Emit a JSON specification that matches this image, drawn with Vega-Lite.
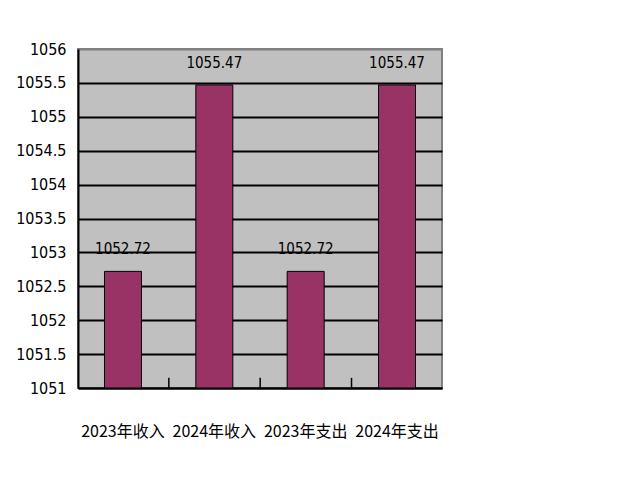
{
  "$schema": "https://vega.github.io/schema/vega-lite/v6.json",
  "width": 364,
  "height": 339,
  "autosize": "none",
  "padding": {"left": 78, "top": 49, "right": 192, "bottom": 93},
  "background": "white",
  "data": {
    "values": [
      {"item": "2023年收入", "value": 1052.72, "label": "1052.72"},
      {"item": "2024年收入", "value": 1055.47, "label": "1055.47"},
      {"item": "2023年支出", "value": 1052.72, "label": "1052.72"},
      {"item": "2024年支出", "value": 1055.47, "label": "1055.47"}
    ]
  },
  "config": {
    "view": {"fill": "#C0C0C0", "stroke": "#808080", "strokeWidth": 2},
    "font": "Noto Sans CJK SC",
    "axis": {"labelFont": "DejaVu Sans Condensed", "labelColor": "black", "labelFontSize": 16, "title": null}
  },
  "encoding": {
    "x": {
      "field": "item",
      "type": "nominal",
      "sort": null,
      "scale": {"paddingInner": 0.595, "paddingOuter": 0.29},
      "axis": {
        "labelAngle": 0,
        "ticks": false,
        "domainColor": "black",
        "domainWidth": 2,
        "labelPadding": 35,
        "labelFont": "Noto Sans CJK SC",
        "labelFontSize": 16,
        "grid": false
      }
    },
    "y": {
      "field": "value",
      "type": "quantitative",
      "scale": {"domain": [1051, 1056], "zero": false, "nice": false},
      "axis": {
        "values": [1051, 1051.5, 1052, 1052.5, 1053, 1053.5, 1054, 1054.5, 1055, 1055.5, 1056],
        "format": "~g",
        "labelOverlap": false,
        "grid": true,
        "gridColor": {"condition": {"test": "datum.value >= 1056", "value": "#808080"}, "value": "black"},
        "gridWidth": 2,
        "gridOpacity": 1,
        "ticks": false,
        "domainColor": "black",
        "domainWidth": 2,
        "labelPadding": 12
      },
      "title": null
    }
  },
  "layer": [
    {
      "mark": {"type": "bar", "color": "#993366", "stroke": "black", "strokeWidth": 1},
      "encoding": {
        "y2": {"datum": 1051}
      }
    },
    {
      "mark": {"type": "rule", "color": "black", "strokeWidth": 1.5},
      "transform": [{"filter": "datum.item != '2023年收入'"}],
      "encoding": {
        "x": {"field": "item", "type": "nominal", "sort": null, "bandPosition": -0.73},
        "y": {"datum": 1051},
        "y2": {"datum": 1051.15}
      }
    },
    {
      "mark": {"type": "text", "baseline": "bottom", "dy": -14, "font": "DejaVu Sans Condensed", "fontSize": 15, "color": "black"},
      "encoding": {
        "text": {"field": "label"}
      }
    }
  ]
}
